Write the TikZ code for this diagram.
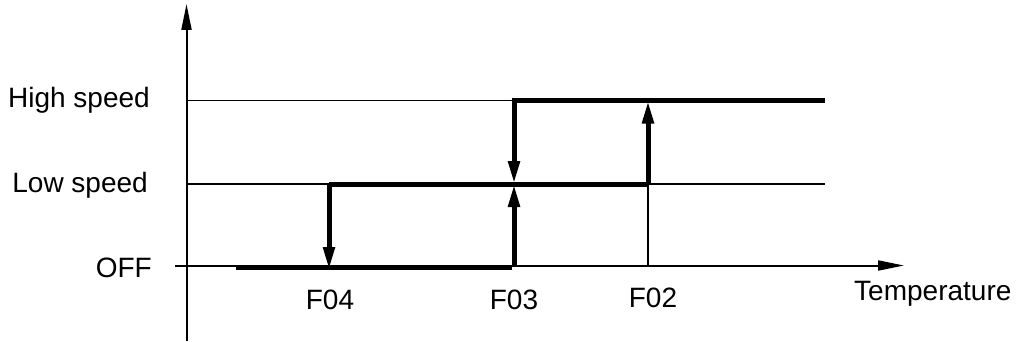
\documentclass[tikz,border=0pt]{standalone}
\usepackage{fontspec}
\setmainfont{Liberation Sans}
\usetikzlibrary{arrows.meta}
\begin{document}
\begin{tikzpicture}[x=1pt,y=-1pt,
  lbl/.style={inner sep=0pt,font=\fontsize{28}{32}\selectfont},
  axis/.style={line width=2pt,-{Triangle[length=26pt,width=10pt]}},
  guide/.style={line width=1.3pt},
  level/.style={line width=5pt},
  jump/.style={line width=5pt,-{Triangle[length=23pt,width=11pt]}}]
\useasboundingbox (0,0) rectangle (1016,342);
% axes
\coordinate (ybot) at (186.5,341);
\coordinate (ytop) at (186.5,4);
\coordinate (xl) at (175,265.5);
\coordinate (xr) at (904,265.5);
\draw[axis] (ybot) -- (ytop);
\draw[axis] (xl) -- (xr);
% level guides
\coordinate (hi0) at (186.5,100.5);
\coordinate (hiA) at (514,100.5);
\coordinate (hiB) at (648,100.5);
\coordinate (hiE) at (825,100.5);
\coordinate (lo0) at (186.5,184);
\coordinate (loA) at (329,184);
\coordinate (loB) at (514,184);
\coordinate (loC) at (648,184);
\coordinate (loE) at (825,184);
\coordinate (off0) at (236,267);
\coordinate (offA) at (329,270);
\coordinate (offB) at (514,267);
\coordinate (offE) at (512,267);
\coordinate (offC) at (648,265.5);
\draw[guide] (hi0) -- (hiA);
\draw[guide] (lo0) -- (loE);
\draw[guide] (loC) -- (offC);
% thick switching path
\draw[level] (off0) -- (offE);
\draw[level] (loA) -- (loC);
\draw[level] ([xshift=-2.5pt]hiA) -- (hiE);
% transitions
\draw[jump] (loA) -- (offA);
\draw[jump] (hiA) -- (loB);
\draw[jump] (offB) -- (loB);
\draw[jump] (loC) -- (hiB);
% labels
\node[lbl,anchor=base east] (thi) at (150,108) {High speed};
\node[lbl,anchor=base east] (tlo) at (148,192) {Low speed};
\node[lbl,anchor=base east] (toff) at (152,277) {OFF};
\node[lbl,anchor=base] (f4) at (330,309) {F04};
\node[lbl,anchor=base] (f3) at (514,309) {F03};
\node[lbl,anchor=base] (f2) at (653,307) {F02};
\node[lbl,anchor=base west] (temp) at (854,300) {Temperature};
\end{tikzpicture}
\end{document}
